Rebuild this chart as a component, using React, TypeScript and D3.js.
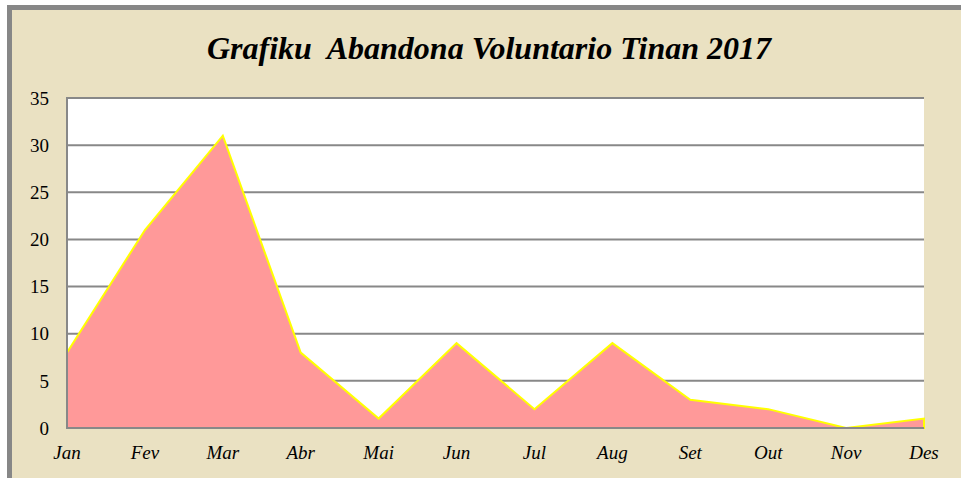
import React from "react";
import * as d3 from "d3";

const months = ["Jan", "Fev", "Mar", "Abr", "Mai", "Jun", "Jul", "Aug", "Set", "Out", "Nov", "Des"];
const values = [8, 21, 31, 8, 1, 9, 2, 9, 3, 2, 0, 1];
const yTicks = [0, 5, 10, 15, 20, 25, 30, 35];
const title = "Grafiku  Abandona Voluntario Tinan 2017";

export default function App() {
  const W = 961, H = 478;
  const left = 67, right = 924, top = 98, bottom = 428;
  const x = d3.scalePoint<string>().domain(months).range([left, right]);
  const y = d3.scaleLinear().domain([0, 35]).range([bottom, top]);
  const data = months.map((m, i) => ({ m, v: values[i] }));
  const area = d3.area<{ m: string; v: number }>()
    .x(d => x(d.m)!)
    .y0(y(0))
    .y1(d => y(d.v));
  const font = "'Liberation Serif', 'Times New Roman', serif";
  return (
    <svg width={W} height={H} style={{ position: "absolute", left: 0, top: 0 }} fontFamily={font}>
      <rect x={0} y={0} width={W} height={H} fill="#ffffff" />
      <rect x={9.5} y={7.5} width={1200} height={1200} fill="#EAE1C2" stroke="#878787" strokeWidth={5} />
      <rect x={left} y={top} width={right - left} height={bottom - top} fill="#ffffff" />
      {yTicks.map(t => (
        <line key={t} x1={left} x2={right} y1={y(t)} y2={y(t)} stroke="#888888" strokeWidth={2} />
      ))}
      <path d={area(data)!} fill="#FF9999" stroke="#FFFF00" strokeWidth={2} strokeLinejoin="miter" />
      <line x1={left} x2={left} y1={top - 1} y2={bottom + 1} stroke="#888888" strokeWidth={2} />
      <line x1={left} x2={right} y1={bottom} y2={bottom} stroke="#888888" strokeWidth={2} />
      {yTicks.map(t => (
        <text key={t} x={49} y={y(t)} dy="0.35em" textAnchor="end" fontSize={19} fill="#000">{t}</text>
      ))}
      {months.map(m => (
        <text key={m} x={x(m)!} y={459} textAnchor="middle" fontSize={19} fontStyle="italic" fill="#000">{m}</text>
      ))}
      <text x={489} y={59} textAnchor="middle" fontSize={32} fontStyle="italic" fontWeight="bold" fill="#000" style={{ whiteSpace: "pre" }}>{title}</text>
    </svg>
  );
}
